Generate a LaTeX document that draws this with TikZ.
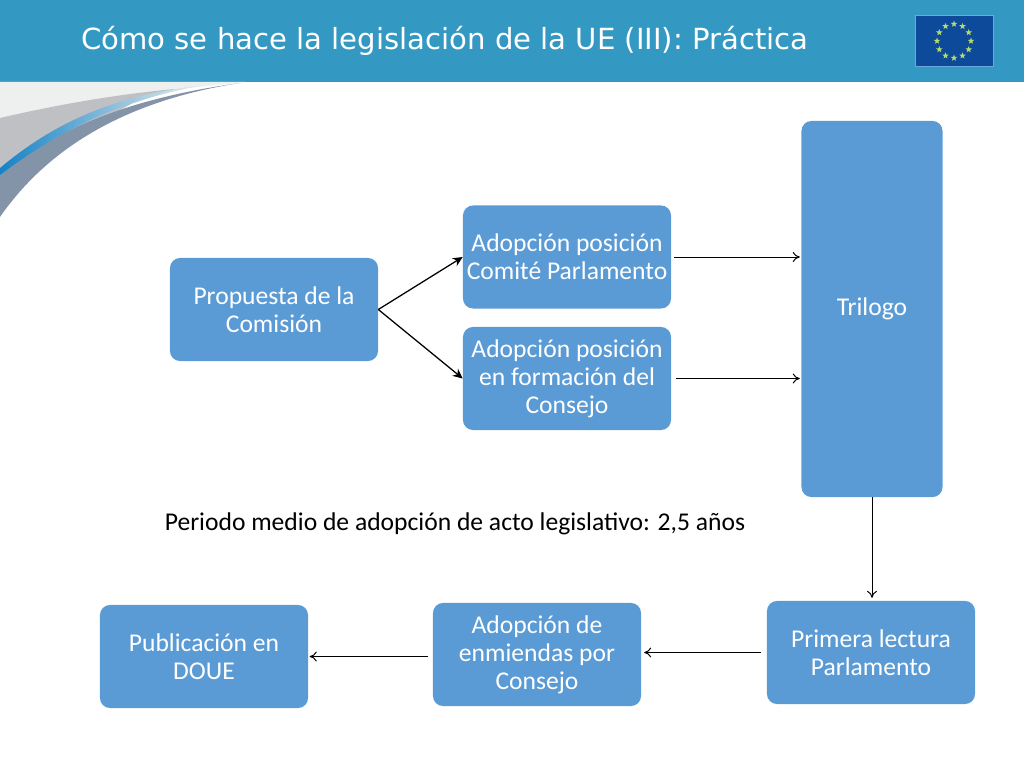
\documentclass[tikz,border=0pt]{standalone}
\usepackage{fontspec}
\setmainfont{Carlito}
\newfontfamily\titlefont{DejaVu Sans}
\usetikzlibrary{shapes.geometric,arrows.meta}
\definecolor{barblue}{HTML}{3499C2}
\definecolor{boxblue}{HTML}{5B9BD5}
\definecolor{flagblue}{HTML}{0D4A9A}
\definecolor{flagedge}{HTML}{6FA8DC}
\definecolor{starcol}{HTML}{B5DC6A}
\definecolor{paleback}{HTML}{EDF0EE}
\definecolor{greyband}{HTML}{BFC0C3}
\definecolor{slateband}{HTML}{8494A8}
\definecolor{blueband}{HTML}{1583C6}
\begin{document}
\begin{tikzpicture}[x=0.025cm,y=-0.025cm]
	\tikzstyle{Box} = [rectangle, fill=boxblue, rounded corners=0.25cm, minimum width=5.2cm, minimum height=2.575cm, inner sep=0pt, align=center, text=white, font=\fontsize{18.2}{19.9}\selectfont]
	\tikzstyle{Link} = [-{To[length=5pt,width=7pt]}, black, line width=0.7pt]
	\tikzstyle{Tip} = [-{Stealth[length=7pt,width=6.5pt]}, black, line width=0.9pt]
	\tikzstyle{Flagstar} = [star, star points=5, star point ratio=2.4, fill=starcol, minimum size=0.17cm, inner sep=0pt]
	\useasboundingbox (0,0) rectangle (1024,768);
	% header and corner swoosh
	\fill[barblue] (0,0) rectangle (1024,82);
	\fill[paleback] (0,82) -- (245,82) -- (170,90) -- (0,118) -- cycle;
	\fill[greyband] (0,118) .. controls (60,104) and (120,94) .. (175,89) -- (133,103) -- (0,175) -- cycle;
	\fill[slateband] (0,172) .. controls (60,128) and (130,98) .. (240,83) .. controls (130,100) and (50,145) .. (0,217) -- cycle;
	\shade[left color=blueband, middle color=blueband, right color=paleback] (0,168) .. controls (55,122) and (115,95) .. (205,85) .. controls (120,100) and (60,130) .. (0,175) -- cycle;
	\node (title) at (81,41) [anchor=west, text=white, inner sep=0pt, font=\titlefont\fontsize{20.7}{24}\selectfont] {Cómo se hace la legislación de la UE (III): Práctica};
	% flag
	\node (flag) at (954,41) [rectangle, fill=flagblue, draw=flagedge, line width=0.7pt, minimum width=1.95cm, minimum height=1.275cm, inner sep=0pt] {};
	\foreach \i in {1,...,12}
		\node (star\i) at ({954+17*cos(30*\i)},{41+17*sin(30*\i)}) [Flagstar] {};
	% boxes
	\node (propuesta) at (274,309.5) [Box] {Propuesta de la\\Comisión};
	\node (comite) at (567,257) [Box] {Adopción posición\\Comité Parlamento};
	\node (consejo) at (567,378.5) [Box] {Adopción posición\\en formación del\\Consejo};
	\node (trilogo) at (872,309) [Box, minimum width=3.525cm, minimum height=9.4cm] {Trilogo};
	\node (lectura) at (871,652.5) [Box] {Primera lectura\\Parlamento};
	\node (enmiendas) at (537,654.5) [Box] {Adopción de\\enmiendas por\\Consejo};
	\node (doue) at (204,656.5) [Box] {Publicación en\\DOUE};
	\node (periodo) at (455,524) [font=\fontsize{18.2}{19.9}\selectfont, inner sep=0pt] {Periodo medio de adopción de acto legislativo: 2,5 años};
	% arrows
	\draw[Tip] (propuesta.east) to (comite.west);
	\draw[Tip] (propuesta.east) to (consejo.west);
	\draw[Link] ([xshift=2pt]comite.east) to ([xshift=-1pt]comite.east -| trilogo.west);
	\draw[Link] ([xshift=3pt]consejo.east) to ([xshift=-1pt]consejo.east -| trilogo.west);
	\draw[Link] (trilogo.south) to ([yshift=2pt]lectura.north -| trilogo.south);
	\draw[Link] ([xshift=-4pt]lectura.west) to ([xshift=2pt]enmiendas.east |- lectura.west);
	\draw[Link] ([xshift=-3pt]enmiendas.west |- doue.east) to ([xshift=1pt]doue.east);
\end{tikzpicture}
\end{document}
